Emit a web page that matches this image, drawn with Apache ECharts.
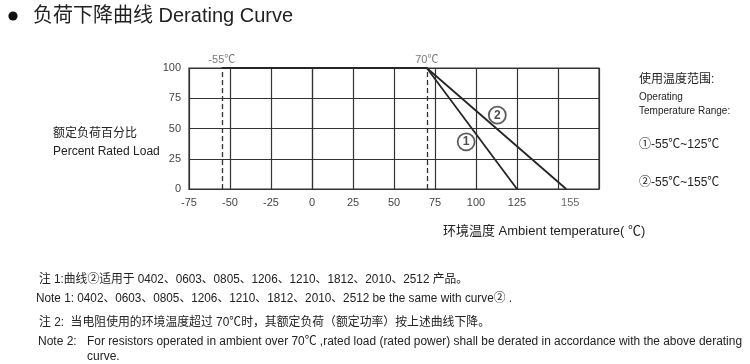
<!DOCTYPE html>
<html>
<head>
<meta charset="utf-8">
<script src="https://cdn.jsdelivr.net/npm/echarts@6/dist/echarts.min.js"></script>
<style>
html,body{margin:0;padding:0;background:#fff;}
#c{width:750px;height:364px;}
</style>
</head>
<body>
<div id="c"></div>
<script>
// ---- data ----
const xMin = -75, xMax = 175, xStep = 25;
const yMin = 0, yMax = 100, yStep = 25;
const xTickLabels = [-75, -50, -25, 0, 25, 50, 75, 100, 125];
const extraXLabels = [155];
const curve1 = [[-55, 100], [70, 100], [125, 0]];
const curve2 = [[-55, 100], [70, 100], [155, 0]];
const tempMarks = [-55, 70];
const tempMarkLabels = ['-55℃', '70℃'];
const curveTags = [[94, 39, '1'], [113, 61, '2']];

const FONT = "'Liberation Sans', 'Noto Sans CJK SC', sans-serif";
const lineColor = '#262626';

const mctx = document.createElement('canvas').getContext('2d');
function fitScale(text, font, width) {
  mctx.font = font;
  const w = mctx.measureText(text).width;
  return w > 0 ? width / w : 1;
}
function fitText(text, left, top, size, width) {
  const font = size + 'px ' + FONT;
  return {type: 'text', left: left, top: top, scaleX: fitScale(text, font, width),
          style: {text: text, font: font, fill: '#222'}};
}

const chart = echarts.init(document.getElementById('c'));

const dashedData = tempMarks.map(v => [{coord: [v, yMin]}, {coord: [v, yMax]}]);

const note1 = 'Note 1: 0402、0603、0805、1206、1210、1812、2010、2512 be the same with curve② .';
const note2 = 'For resistors operated in ambient over 70℃ ,rated load (rated power) shall be derated in accordance with the above derating';
const zhu1 = '注 1:曲线②适用于 0402、0603、0805、1206、1210、1812、2010、2512 产品。';
const zhu2 = '注 2:  当电阻使用的环境温度超过 70℃时，其额定负荷（额定功率）按上述曲线下降。';

chart.setOption({
  animation: false,
  backgroundColor: '#fff',
  textStyle: {fontFamily: FONT},
  grid: {left: 189, right: 151, top: 68, bottom: 175, show: true, borderColor: '#333', borderWidth: 1.2, backgroundColor: 'transparent'},
  xAxis: {
    type: 'value', min: xMin, max: xMax, interval: xStep,
    axisLine: {show: true, lineStyle: {color: '#333', width: 1.2}},
    axisTick: {show: false},
    splitLine: {show: true, lineStyle: {color: '#333', width: 1.2}},
    axisLabel: {
      margin: 8, fontSize: 11, color: '#444', fontFamily: FONT,
      formatter: v => xTickLabels.includes(v) ? String(v) : ''
    }
  },
  yAxis: {
    type: 'value', min: yMin, max: yMax, interval: yStep,
    axisLine: {show: true, lineStyle: {color: '#333', width: 1.2}},
    axisTick: {show: false},
    splitLine: {show: true, lineStyle: {color: '#333', width: 1.2}},
    axisLabel: {margin: 8, fontSize: 11, color: '#444', fontFamily: FONT}
  },
  series: [
    {
      type: 'line', data: curve1, symbol: 'none',
      lineStyle: {color: lineColor, width: 1.8},
      markLine: {
        silent: true, symbol: 'none', label: {show: false},
        lineStyle: {color: '#333', type: [5, 3], width: 1.3},
        data: dashedData
      }
    },
    {
      type: 'line', data: curve2, symbol: 'none',
      lineStyle: {color: lineColor, width: 1.8}
    },
    {
      type: 'scatter', symbolSize: 0,
      data: tempMarks.map((v, i) => ({value: [v, yMax], name: tempMarkLabels[i]})),
      label: {show: true, position: 'top', distance: 3, formatter: p => p.name, fontSize: 11, color: '#555', fontFamily: FONT}
    },
    {
      type: 'scatter', symbolSize: 0,
      data: extraXLabels.map(v => [v, yMin]),
      label: {show: true, position: 'bottom', distance: 8, offset: [4, 0], formatter: p => String(p.value[0]), fontSize: 11, color: '#444', fontFamily: FONT}
    },
    {
      type: 'scatter', symbol: 'circle', symbolSize: 17,
      itemStyle: {color: '#fff', borderColor: '#333', borderWidth: 1.8},
      data: curveTags.map(t => ({value: [t[0], t[1]], name: t[2]})),
      label: {show: true, position: 'inside', formatter: p => p.name, fontSize: 12, fontWeight: 'bold', color: '#222', fontFamily: FONT}
    }
  ],
  graphic: [
    {type: 'circle', shape: {cx: 13, cy: 16, r: 4.6}, style: {fill: '#111'}},
    {type: 'text', left: 33, top: 6, style: {text: '负荷下降曲线 Derating Curve', font: "20px " + FONT, fill: '#222'}},
    {type: 'text', left: 53, top: 128, style: {text: '额定负荷百分比', font: "12px " + FONT, fill: '#222'}},
    {type: 'text', left: 53, top: 146, style: {text: 'Percent Rated Load', font: "12px " + FONT, fill: '#222'}},
    {type: 'text', left: 443, top: 225, style: {text: '环境温度 Ambient temperature( ℃)', font: "13px " + FONT, fill: '#222'}},
    {type: 'text', left: 639, top: 74, style: {text: '使用温度范围:', font: "12px " + FONT, fill: '#222'}},
    {type: 'text', left: 639, top: 92, style: {text: 'Operating', font: "10px " + FONT, fill: '#222'}},
    {type: 'text', left: 639, top: 106, style: {text: 'Temperature Range:', font: "10px " + FONT, fill: '#222'}},
    {type: 'text', left: 639, top: 139, style: {text: '①-55℃~125℃', font: "12px " + FONT, fill: '#222'}},
    {type: 'text', left: 639, top: 177, style: {text: '②-55℃~155℃', font: "12px " + FONT, fill: '#222'}},
    fitText(zhu1, 39, 274, 12, 429),
    fitText(note1, 36, 293, 12, 476),
    fitText(zhu2, 39, 317, 12, 451),
    {type: 'text', left: 38, top: 336, style: {text: 'Note 2:', font: "12px " + FONT, fill: '#222'}},
    fitText(note2, 87, 336, 12, 655),
    {type: 'text', left: 87, top: 351, style: {text: 'curve.', font: "12px " + FONT, fill: '#222'}}
  ]
});
</script>
</body>
</html>
